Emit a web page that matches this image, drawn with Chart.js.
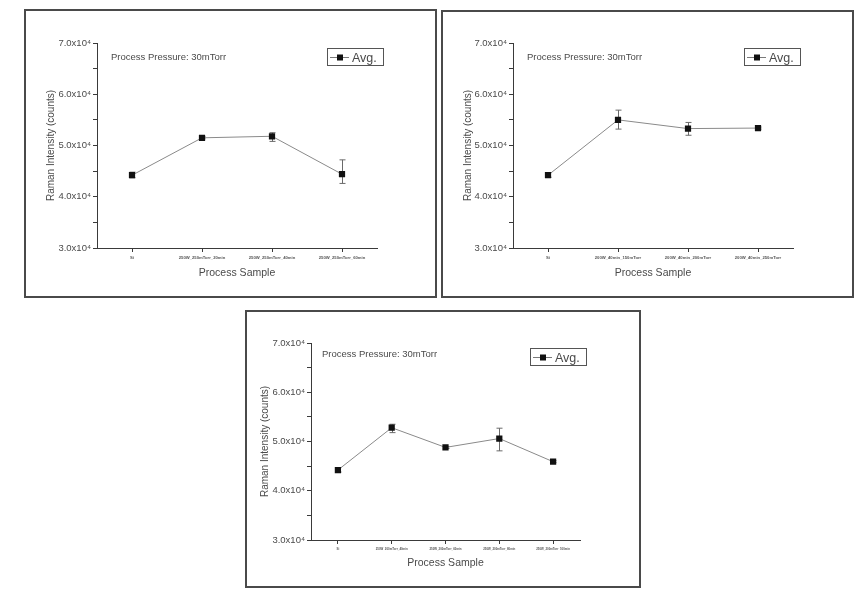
<!DOCTYPE html>
<html lang="en">

<head>
  <meta charset="UTF-8">
  <title>Raman Intensity vs Process Sample</title>
  <script src="https://cdn.jsdelivr.net/npm/chart.js"></script>
  <style>
    body { margin: 0; background: #fff; width: 860px; height: 591px; position: relative; overflow: hidden; }
    .frame { position: absolute; border: 2px solid #4a4a4a; box-sizing: border-box; background: #fff; }
    .frame canvas { display: block; }
  </style>
</head>

<body>
  <div class="frame" style="left:24px; top:9px; width:413px; height:289px;">
    <canvas id="chartA" width="409" height="285"></canvas>
  </div>
  <div class="frame" style="left:441px; top:10px; width:413px; height:288px;">
    <canvas id="chartB" width="409" height="284"></canvas>
  </div>
  <div class="frame" style="left:245px; top:310px; width:396px; height:278px;">
    <canvas id="chartC" width="392" height="274"></canvas>
  </div>

  <script>
    // --- data ---
    const samplesA = ['Si', '250W_250mTorr_20min', '250W_250mTorr_40min', '250W_250mTorr_60min'];
    const avgA = [44200, 51500, 51800, 44400];
    const lowA = [43700, 51300, 50800, 42600];
    const highA = [44800, 51700, 52500, 47200];

    const samplesB = ['Si', '200W_40min_150mTorr', '200W_40min_200mTorr', '200W_40min_250mTorr'];
    const avgB = [44200, 55000, 53300, 53400];
    const lowB = [43800, 53200, 52000, 53200];
    const highB = [44700, 56900, 54500, 53600];

    const samplesC = ['Si', '250W_200mTorr_40min', '250W_200mTorr_60min', '250W_200mTorr_80min', '250W_200mTorr_100min'];
    const avgC = [44200, 52800, 48800, 50600, 45900];
    const lowC = [43800, 51800, 48600, 48100, 45700];
    const highC = [44700, 53500, 49000, 52700, 46100];

    const yTicks = [30000, 40000, 50000, 60000, 70000];
    const noteText = 'Process Pressure: 30mTorr';
    const seriesName = 'Avg.';

    const FONT = "'Liberation Sans', Arial, sans-serif";
    const TEXT = '#4a4a4a';
    const AXIS = '#3a3a3a';

    // error bars, drawn through the chart's own scales
    const errorBars = {
      id: 'errorBars',
      beforeDatasetsDraw(chart, args, opts) {
        const {ctx, scales: {x, y}} = chart;
        ctx.save();
        ctx.strokeStyle = '#6a6a6a';
        ctx.lineWidth = 1;
        opts.low.forEach((lo, i) => {
          const px = Math.round(x.getPixelForValue(i)) + 0.5;
          const yLo = y.getPixelForValue(lo);
          const yHi = y.getPixelForValue(opts.high[i]);
          ctx.beginPath();
          ctx.moveTo(px, yLo); ctx.lineTo(px, yHi);
          ctx.moveTo(px - 3, yLo); ctx.lineTo(px + 3, yLo);
          ctx.moveTo(px - 3, yHi); ctx.lineTo(px + 3, yHi);
          ctx.stroke();
        });
        ctx.restore();
      }
    };

    // note text and the boxed legend in the top right
    const panelDecor = {
      id: 'panelDecor',
      afterDraw(chart, args, opts) {
        const {ctx, chartArea} = chart;
        ctx.save();
        ctx.fillStyle = TEXT;
        ctx.font = `9.5px ${FONT}`;
        ctx.textBaseline = 'middle';
        ctx.fillText(noteText, chartArea.left + opts.noteDx, chartArea.top + opts.noteDy);

        const bw = 56, bh = 17;
        const bx = chartArea.right + opts.legendDx - bw;
        const by = chartArea.top + 5;
        ctx.strokeStyle = '#555';
        ctx.lineWidth = 1;
        ctx.strokeRect(Math.round(bx) + 0.5, Math.round(by) + 0.5, bw, bh);
        const cy = Math.round(by + bh / 2) + 0.5;
        ctx.strokeStyle = '#7a7a7a';
        ctx.beginPath();
        ctx.moveTo(bx + 3, cy); ctx.lineTo(bx + 22, cy);
        ctx.stroke();
        ctx.fillStyle = '#111';
        ctx.fillRect(bx + 10, cy - 3, 6, 6);
        ctx.fillStyle = TEXT;
        ctx.font = `12.5px ${FONT}`;
        ctx.fillText(chart.data.datasets[0].label, bx + 25, cy + 1);
        ctx.restore();
      }
    };

    function makeChart(id, labels, avg, low, high, frame) {
      return new Chart(document.getElementById(id), {
        type: 'line',
        data: {
          labels: labels,
          datasets: [{
            label: seriesName,
            data: avg,
            borderColor: '#8a8a8a',
            borderWidth: 1,
            pointStyle: 'rect',
            pointRadius: 4.4,
            pointBackgroundColor: '#111',
            pointBorderColor: '#111',
            pointBorderWidth: 0
          }]
        },
        options: {
          responsive: false,
          animation: false,
          layout: {padding: {top: frame.top, right: frame.right, left: 0, bottom: 0}},
          scales: {
            x: {
              type: 'category',
              offset: true,
              grid: {display: true, drawOnChartArea: false, tickLength: 4, color: AXIS},
              border: {display: true, color: AXIS, width: 1},
              ticks: {
                autoSkip: false, maxRotation: 0, minRotation: 0, padding: 3,
                color: '#555', font: {family: FONT, size: frame.xfs, weight: 'bold'}
              },
              title: {
                display: true, text: 'Process Sample', color: TEXT,
                font: {family: FONT, size: 10.5}, padding: {top: 0, bottom: 17}
              },
              afterFit: (s) => { s.height = frame.xh; }
            },
            y: {
              min: 30000,
              max: 70000,
              grid: {display: true, drawOnChartArea: false, tickLength: 4, color: AXIS},
              border: {display: true, color: AXIS, width: 1},
              ticks: {
                stepSize: 5000, autoSkip: false, padding: 2, color: TEXT,
                font: {family: FONT, size: 9.5},
                callback: (v) => yTicks.includes(v) ? (v / 10000).toFixed(1) + 'x10\u2074' : ''
              },
              title: {
                display: true, text: 'Raman Intensity (counts)', color: TEXT,
                font: {family: FONT, size: 10}, padding: {top: frame.ytp, bottom: 0}
              },
              afterFit: (s) => { s.width = frame.yw; }
            }
          },
          plugins: {
            legend: {display: false},
            tooltip: {enabled: false},
            errorBars: {low: low, high: high},
            panelDecor: {noteDx: frame.noteDx, noteDy: frame.noteDy, legendDx: frame.legendDx}
          }
        },
        plugins: [errorBars, panelDecor]
      });
    }

    document.addEventListener('DOMContentLoaded', () => {
      makeChart('chartA', samplesA, avgA, lowA, highA,
        {top: 32, right: 58, yw: 71, xh: 48, ytp: 19, xfs: 4.2, noteDx: 14, noteDy: 14, legendDx: 6});
      makeChart('chartB', samplesB, avgB, lowB, highB,
        {top: 31, right: 59, yw: 70, xh: 48, ytp: 19, xfs: 4.2, noteDx: 14, noteDy: 14, legendDx: 7});
      makeChart('chartC', samplesC, avgC, lowC, highC,
        {top: 31, right: 59, yw: 64, xh: 46, ytp: 12, xfs: 2.9, noteDx: 11, noteDy: 11, legendDx: 6});
    });
  </script>
</body>

</html>
